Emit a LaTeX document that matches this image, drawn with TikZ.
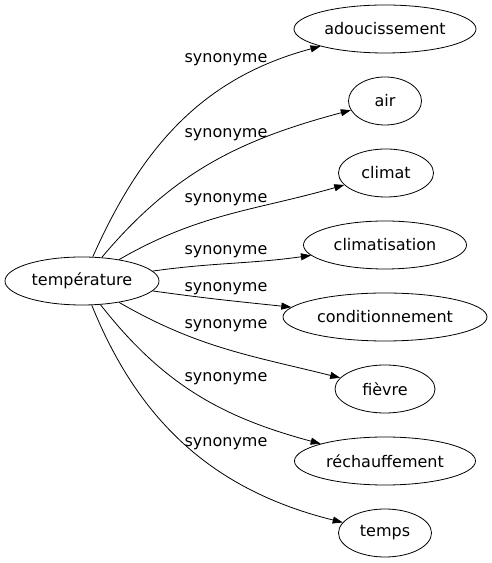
\documentclass[tikz,border=0pt]{standalone}
\usepackage{fontspec}
\setmainfont{DejaVu Sans}
\usetikzlibrary{shapes.geometric,arrows.meta}

\begin{document}
\begin{tikzpicture}[x=1bp,y=1bp,
	every node/.style={font=\fontsize{16bp}{19bp}\selectfont},
	word/.style={ellipse,draw,line width=0.8bp,minimum height=48bp,inner sep=0pt},
	tag/.style={anchor=base,inner sep=0pt},
	rel/.style={line width=0.8bp,-{Triangle[length=10bp,width=7bp]}}]
	\useasboundingbox (0,0) rectangle (492,563);
	
	% central word
	\node[word,minimum width=154bp] (temp) at (82,282) {température};
	
	% synonyms
	\node[word,minimum width=182bp] (adou) at (385,534) {adoucissement};
	\node[word,minimum width=73bp] (air) at (385,462) {air};
	\node[word,minimum width=95bp] (climat) at (386,390) {climat};
	\node[word,minimum width=163bp] (clim) at (385,318) {climatisation};
	\node[word,minimum width=204bp] (cond) at (385,246) {conditionnement};
	\node[word,minimum width=100bp] (fievre) at (385,174) {fièvre};
	\node[word,minimum width=181bp] (rech) at (385,102) {réchauffement};
	\node[word,minimum width=93bp] (temps) at (385,30) {temps};
	
	% edges
	\draw[rel] (temp) to[out=66,in=195] (adou);
	\draw[rel] (temp) to[out=50,in=195] (air);
	\draw[rel] (temp) to[out=30,in=196] (climat);
	\draw[rel] (temp) to[out=8,in=188] (clim);
	\draw[rel] (temp) to[out=-8,in=174] (cond);
	\draw[rel] (temp) to[out=-30,in=166] (fievre);
	\draw[rel] (temp) to[out=-52,in=165] (rech);
	\draw[rel] (temp) to[out=-68,in=166] (temps);
	
	% edge labels
	\node[tag] (s1) at (226,500) {synonyme};
	\node[tag] (s2) at (226,425) {synonyme};
	\node[tag] (s3) at (226,360) {synonyme};
	\node[tag] (s4) at (226,308) {synonyme};
	\node[tag] (s5) at (226,271) {synonyme};
	\node[tag] (s6) at (226,234) {synonyme};
	\node[tag] (s7) at (226,181) {synonyme};
	\node[tag] (s8) at (226,116) {synonyme};
\end{tikzpicture}
\end{document}
